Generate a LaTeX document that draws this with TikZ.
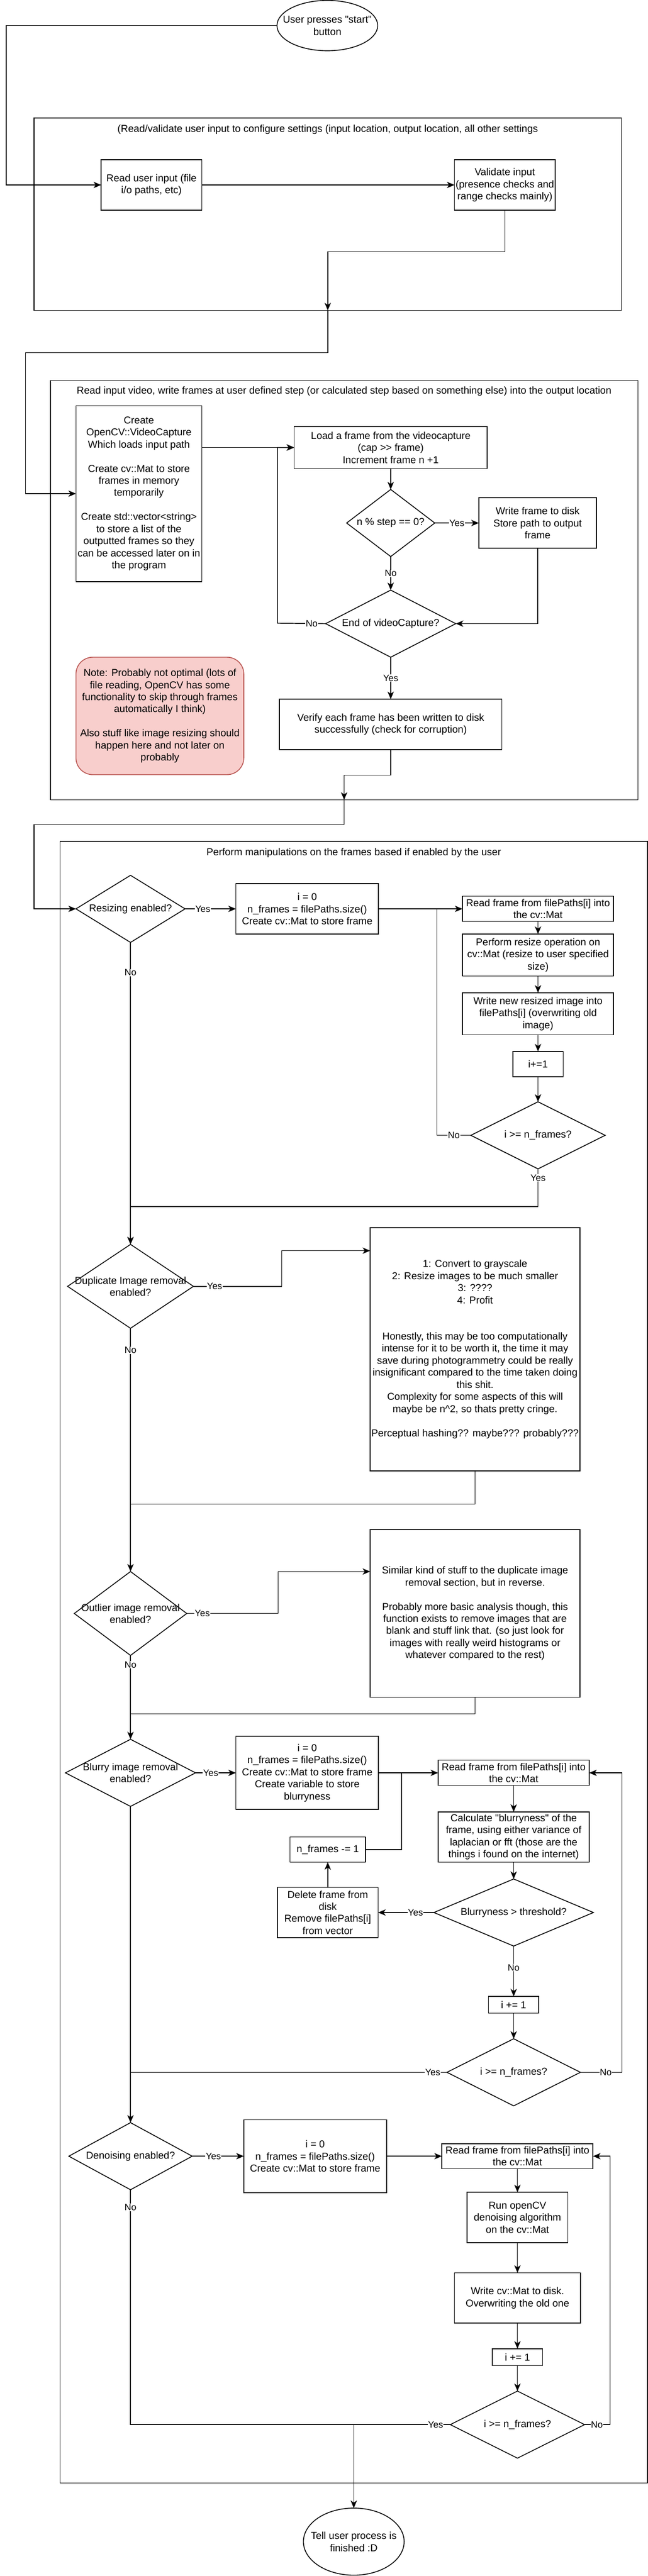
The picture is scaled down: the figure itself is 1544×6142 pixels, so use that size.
\documentclass[tikz,border=0pt]{standalone}
\usepackage{fontspec}
\setmainfont{Liberation Sans}[Ligatures=TeXOff]
\usetikzlibrary{arrows.meta, graphs, positioning, quotes, shapes.geometric}

\definecolor{notefill}{HTML}{F8CECC}
\definecolor{noteline}{HTML}{B85450}

\begin{document}
\begin{tikzpicture}[x=1pt, y=-1pt, node distance=40pt,
    font=\fontsize{24}{28.8}\selectfont,
    >={Stealth[length=18pt, width=15pt, inset=5pt]},
    every node/.style={outer sep=0pt},
    every edge/.append style={line width=1.8pt},
    every edge quotes/.style={yesno},
    dims/.style 2 args={minimum width=#1pt, minimum height=#2pt},
    box/.style={draw, line width=2pt, align=center, inner sep=1pt},
    decision/.style={draw, diamond, line width=2pt, inner sep=0pt},
    terminal/.style={draw, ellipse, line width=2pt, inner sep=0pt},
    group/.style={draw, line width=2pt, anchor=north west, inner sep=0pt},
    note/.style={box, rounded corners=40pt, fill=notefill, draw=noteline},
    flow/.style={line width=1.8pt},
    yesno/.style={fill=white, inner sep=1pt, font=\fontsize{22}{26}\selectfont}]
\useasboundingbox (0,0) rectangle (1544,6142);

% settings
\node[terminal, dims={240}{120}, label={[align=center]center:{User presses "start"\\button}}] (start) at (780,61) {};
\node[group, dims={1400}{459}, label={[anchor=center, yshift=-28pt]north:{(Read/validate user input to configure settings (input location, output location, all other settings}}] (setup) at (81,281) {};
\node[box, dims={240}{120}] (readin) at (361,441) {Read user input (file\\i/o paths, etc)};
\node[box, dims={240}{120}, right=602pt of readin] (validate) {Validate input\\(presence checks and\\range checks mainly)};

% frame extraction
\node[group, dims={1400}{1000}, label={[anchor=center, yshift=-26pt]north:{Read input video, write frames at user defined step (or calculated step based on something else) into the output location}}] (extract) at (120,907) {};
\node[box, dims={300}{419}] (create) at (331,1177) {Create\\OpenCV::VideoCapture\\Which loads input path\\[28.8pt]Create cv::Mat to store\\frames in memory\\temporarily\\[28.8pt]Create std::vector<string>\\to store a list of the\\outputted frames so they\\can be accessed later on in\\the program};
\node[box, dims={460}{100}] (load) at (931,1067) {Load a frame from the videocapture\\(cap >{}> frame)\\Increment frame n +1};
\node[decision, dims={210}{160}, below=50pt of load, label={center:n \% step == 0?}] (step) {};
\node[box, dims={280}{120}, right=105pt of step] (write) {Write frame to disk\\Store path to output\\frame};
\node[decision, dims={310}{160}, below=80pt of step, label={center:End of videoCapture?}] (endvc) {};
\node[box, dims={530}{120}, below=100pt of endvc] (verify) {Verify each frame has been written to disk\\successfully (check for corruption)};
\node[note, dims={400}{280}] (caveat) at (381,1707) {Note: Probably not optimal (lots of\\file reading, OpenCV has some\\functionality to skip through frames\\automatically I think)\\[28.8pt]Also stuff like image resizing should\\happen here and not later on\\probably};

% frame manipulations
\node[group, dims={1400}{3914}, label={[anchor=center, yshift=-28pt]north:{Perform manipulations on the frames based if enabled by the user}}] (manip) at (143,2006) {};

\node[decision, dims={260}{160}, label={center:Resizing enabled?}] (resize) at (311,2167) {};
\node[box, dims={340}{120}, right=121pt of resize] (init1) {i = 0\\n\_frames = filePaths.size()\\Create cv::Mat to store frame};
\node[box, dims={360}{60}, right=200pt of init1] (read1) {Read frame from filePaths[i] into\\the cv::Mat};
\node[box, dims={360}{100}, below=30pt of read1] (resizeop) {Perform resize operation on\\cv::Mat (resize to user specified\\size)};
\node[box, dims={360}{100}, below=40pt of resizeop] (rewrite) {Write new resized image into\\filePaths[i] (overwriting old\\image)};
\node[box, dims={120}{60}, below=40pt of rewrite] (inc1) {i+=1};
\node[decision, dims={320}{160}, below=60pt of inc1, label={center:i >= n\_frames?}] (check1) {};

\node[decision, dims={300}{200}, label={[align=center]center:{Duplicate Image removal\\enabled?}}] (dup) at (311,3067) {};
\node[box, dims={500}{580}] (dupinfo) at (1132,3217) {1: Convert to grayscale\\2: Resize images to be much smaller\\3: ????\\4: Profit\\[57.6pt]Honestly, this may be too computationally\\intense for it to be worth it, the time it may\\save during photogrammetry could be really\\insignificant compared to the time taken doing\\this shit.\\Complexity for some aspects of this will\\maybe be n\textasciicircum 2, so thats pretty cringe.\\[28.8pt]Perceptual hashing?? maybe??? probably???};

\node[decision, dims={268}{200}, below=580pt of dup, label={[align=center]center:{Outlier image removal\\enabled?}}] (outlier) {};
\node[box, dims={500}{400}] (outlierinfo) at (1132,3847) {Similar kind of stuff to the duplicate image\\removal section, but in reverse.\\[28.8pt]Probably more basic analysis though, this\\function exists to remove images that are\\blank and stuff link that. (so just look for\\images with really weird histograms or\\whatever compared to the rest)};

\node[decision, dims={310}{160}, below=200pt of outlier, label={[align=center]center:{Blurry image removal\\enabled?}}] (blurry) {};
\node[box, dims={340}{174}, right=96pt of blurry] (init2) {i = 0\\n\_frames = filePaths.size()\\Create cv::Mat to store frame\\Create variable to store\\blurryness};
\node[box, dims={360}{60}, right=142pt of init2] (read2) {Read frame from filePaths[i] into\\the cv::Mat};
\node[box, dims={360}{120}, below=63pt of read2] (blurcalc) {Calculate "blurryness" of the\\frame, using either variance of\\laplacian or fft (those are the\\things i found on the internet)};
\node[decision, dims={380}{160}, below=40pt of blurcalc, label={center:Blurryness > threshold?}] (thresh) {};
\node[box, dims={240}{120}, left=133pt of thresh] (delete) {Delete frame from\\disk\\Remove filePaths[i]\\from vector};
\node[box, dims={180}{60}, above=60pt of delete] (nframes) {n\_frames -= 1};
\node[box, dims={120}{40}, below=120pt of thresh] (inc2) {i += 1};
\node[decision, dims={318}{160}, below=61pt of inc2, label={center:i >= n\_frames?}] (check2) {};

\node[decision, dims={294}{160}, label={center:Denoising enabled?}] (denoise) at (311,5141) {};
\node[box, dims={340}{174}, right=123pt of denoise] (init3) {i = 0\\n\_frames = filePaths.size()\\Create cv::Mat to store frame};
\node[box, dims={360}{60}, right=132pt of init3] (read3) {Read frame from filePaths[i] into\\the cv::Mat};
\node[box, dims={240}{120}, below=56pt of read3] (denoiserun) {Run openCV\\denoising algorithm\\on the cv::Mat};
\node[box, dims={300}{120}, below=72pt of denoiserun] (write3) {Write cv::Mat to disk.\\Overwriting the old one};
\node[box, dims={120}{40}, below=61pt of write3] (inc3) {i += 1};
\node[decision, dims={320}{160}, below=61pt of inc3, label={center:i >= n\_frames?}] (check3) {};
\node[terminal, dims={240}{160}, label={[align=center]center:{Tell user process is\\finished :D}}] (finish) at (843,6060) {};

% connectors
\draw[flow, ->] (start.west) -| (15,441) -- (readin.west);
\draw[flow, ->] (validate.south) -- ++(0,99) -| (setup.south);
\draw[flow, ->] (setup.south) -- ++(0,101) -| (61,1177) -- (create.west);
\draw[flow, ->] (create.east |- load.west) -- (load.west);
\draw[flow, ->] (endvc.west) -- node[yesno, pos=0.29] {No} (661,1486) |- (load.west);
\draw[flow, ->] (verify.south) -- ++(0,61) -| (extract.south);
\draw[flow, ->] (extract.south) -- ++(0,59) -| (81,2167) -- (resize.west);

\graph{
  (readin) -> (validate);
  (load) -> (step) ->["No"] (endvc) ->["Yes"] (verify);
  (step) ->["Yes"] (write) ->[to path={|- (\tikztotarget)}] (endvc);
  (resize) ->["Yes"{pos=0.35}] (init1) -> (read1) -> (resizeop) -> (rewrite) -> (inc1) -> (check1);
  (resize) ->["No"{pos=0.1}] (dup) ->["No"{pos=0.09}] (outlier) ->["No"{pos=0.11}] (blurry) -> (denoise);
  (blurry) ->["Yes"{pos=0.375}] (init2) -> (read2) -> (blurcalc) -> (thresh) ->["Yes"{pos=0.33}] (delete) -> (nframes);
  (thresh) ->["No"{pos=0.43}] (inc2) -> (check2);
  (denoise) ->["Yes"{pos=0.41}] (init3) -> (read3) -> (denoiserun) -> (write3) -> (inc3) -> (check3);
};

\draw[flow] (check1.west) -- node[yesno] {No} (1041,2707) -- (1041,2167);
\draw[flow, ->] (check1.south) -- node[yesno, pos=0.24] {Yes} ++(0,90) -| (dup.north);
\draw[flow, ->] (dup.east) -- node[yesno, pos=0.24] {Yes} (671,3067) |- (dupinfo.west |- 0,2982);
\draw[flow] (dupinfo.south) |- (311,3586);
\draw[flow, ->] (outlier.east) -- node[yesno, pos=0.17] {Yes} (663,3847) |- (outlierinfo.west |- 0,3747);
\draw[flow] (outlierinfo.south) |- (311,4086);
\draw[flow] (nframes.east) -| (957,4227);
\draw[flow, ->] (check2.east) -- node[yesno, pos=0.61] {No} (1482,4941) |- (read2.east);
\draw[flow] (check2.west) -- node[yesno, pos=0.045] {Yes} (311,4941);
\draw[flow, ->] (check3.east) -- node[yesno, pos=0.48] {No} (1454,5781) |- (read3.east);
\draw[flow] (denoise.south) -- node[yesno, pos=0.075] {No} (311,5781) -- node[yesno, pos=0.954] {Yes} (check3.west);
\draw[flow, ->] (finish |- check3) -- (finish);
\end{tikzpicture}
\end{document}
